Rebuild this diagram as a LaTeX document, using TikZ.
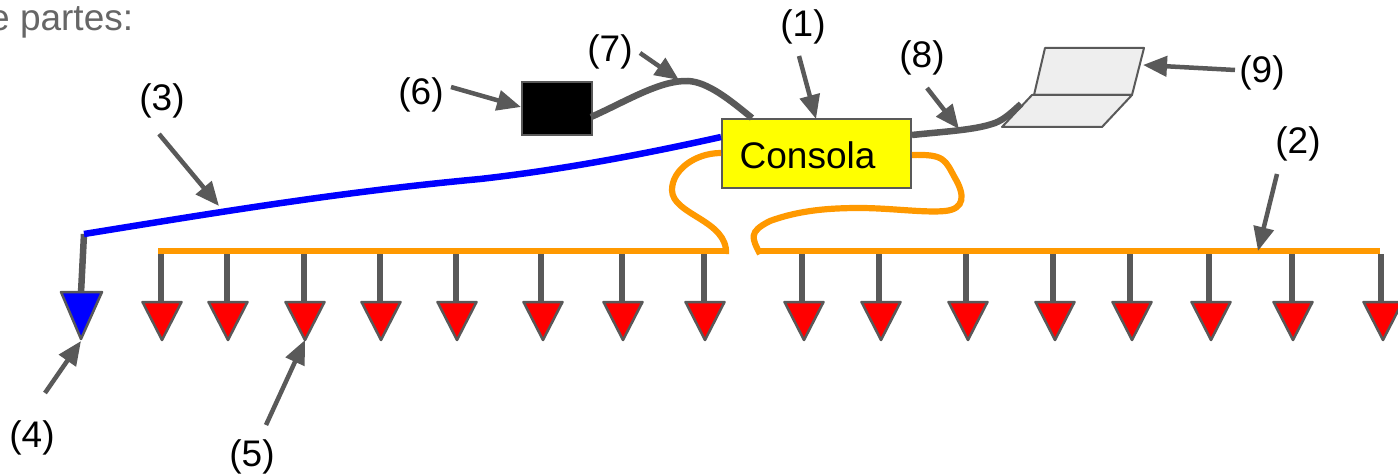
\documentclass[tikz,border=0pt]{standalone}
\usepackage{fontspec}
\setmainfont{Liberation Sans}
\usetikzlibrary{arrows.meta}
\definecolor{gr}{HTML}{595959}
\definecolor{org}{HTML}{FF9900}
\definecolor{lap}{HTML}{EEEEEE}
\definecolor{puryellow}{HTML}{FFFF00}
\definecolor{purred}{HTML}{FF0000}
\definecolor{purblue}{HTML}{0000FF}
\definecolor{introgray}{HTML}{666666}
\tikzset{
 lab/.style={font=\fontsize{37}{40}\selectfont,text=black,inner sep=0pt},
 pointer/.style={draw=gr,line width=4.5pt,-{Triangle[length=24pt,width=20pt]}},
 cable/.style={draw=gr,line width=6.5pt},
 orangecable/.style={draw=org,line width=6.2pt},
 bluecable/.style={draw=purblue,line width=6.5pt},
 stem/.style={draw=gr,line width=6.5pt},
 tri/.style={draw=gr,line width=2.5pt,line join=round},
 lapshape/.style={draw=gr,line width=2pt,fill=lap,line join=round},
}
\begin{document}
\begin{tikzpicture}[x=1pt,y=-1pt]
\useasboundingbox (0,0) rectangle (1398,476);
\clip (0,0) rectangle (1398,476);
\fill[white] (0,0) rectangle (1398,476);
\node[font=\fontsize{37}{40}\selectfont,text=introgray,anchor=base west,inner sep=0pt] (intro) at (-11,30.5) {e partes:};
% stems and triangles
\draw[orangecable] (158,251) -- (728,251);
\draw[orangecable] (760,251) -- (1380,251);
\foreach \n/\x/\tx in {a/161/162,b/227/228,c/304/305,d/380/381,e/456/457,f/541/543,g/622/623,h/704/705,i/802/804,j/879/881,k/966/968,l/1053/1055,m/1130/1132,n/1209/1211,o/1292/1293,p/1381/1383}{
 \coordinate (s\n) at (\x,254);
 \coordinate (t\n) at (\x,303);
 \draw[stem] (s\n) -- (t\n);
 \draw[tri,fill=purred] (\tx-19.5,302) -- (\tx+19.5,302) -- (\tx,340) -- cycle;
}
% blue speaker
\coordinate (bstart) at (84,234);
\coordinate (btop) at (81,293);
\draw[stem] (bstart) -- (btop);
\draw[tri,fill=purblue] (61,292) -- (102,292) -- (81,339) -- cycle;
% boxes
\node[draw=gr,line width=2pt,fill=puryellow,minimum width=189pt,minimum height=68pt,inner sep=0pt,anchor=north west] (con) at (720.5,118.5) {};
\node[lab,anchor=base west] (conl) at (739.5,168) {Consola};
\node[draw=gr,line width=2pt,fill=black,minimum width=70pt,minimum height=53pt,inner sep=0pt,anchor=north west] (box) at (520.5,81.5) {};
% laptop
\draw[lapshape] (1045,48) -- (1144,48) -- (1132,95) -- (1034,95) -- cycle;
\draw[lapshape] (1032,95) -- (1132,95) -- (1102,127) -- (1002,127) -- cycle;
% cables
\draw[cable] (591,117) .. controls (625,102) and (660,80) .. (688,81) .. controls (708,82) and (730,100) .. (752,118);
\draw[cable] (912,135) .. controls (950,131) and (975,130) .. (995,123) .. controls (1005,119) and (1012,112) .. (1021,104);
\draw[bluecable] (721,137) .. controls (640,155) and (560,170) .. (480,179) .. controls (340,192) and (220,212) .. (84,234);
\draw[orangecable] (721,153) .. controls (695,153) and (672,170) .. (672,190) .. controls (672,215) and (728,220) .. (726,254);
\draw[orangecable] (760,254) .. controls (752,238) and (748,232) .. (770,221) .. controls (800,210) and (830,208) .. (860,208) .. controls (890,208) and (925,213) .. (945,211) .. controls (965,209) and (965,195) .. (955,178) .. controls (945,160) and (945,154) .. (912,155);
% labels
\node[lab] (l1) at (803,26.5) {(1)};
\node[lab] (l2) at (1298,143.5) {(2)};
\node[lab] (l3) at (162,100.5) {(3)};
\node[lab] (l4) at (32,437.5) {(4)};
\node[lab] (l5) at (252,456.5) {(5)};
\node[lab] (l6) at (421,94.5) {(6)};
\node[lab] (l7) at (610,51.5) {(7)};
\node[lab] (l8) at (922,57.5) {(8)};
\node[lab] (l9) at (1262,72.5) {(9)};
% pointers
\coordinate (p1) at (799,56); \coordinate (q1) at (816,119);
\coordinate (p2) at (1277,174); \coordinate (q2) at (1258,251);
\coordinate (p3) at (159,134); \coordinate (q3) at (219,206);
\coordinate (p4) at (45,393); \coordinate (q4) at (81,341);
\coordinate (p5) at (266,425); \coordinate (q5) at (305,340);
\coordinate (p6) at (451,87); \coordinate (q6) at (521,107);
\coordinate (p7) at (640,53); \coordinate (q7) at (679,80);
\coordinate (p8) at (927,88); \coordinate (q8) at (959,129);
\coordinate (p9) at (1235,70); \coordinate (q9) at (1143,65);
\foreach \i in {1,...,9}{\draw[pointer] (p\i) -- (q\i);}
\end{tikzpicture}
\end{document}
